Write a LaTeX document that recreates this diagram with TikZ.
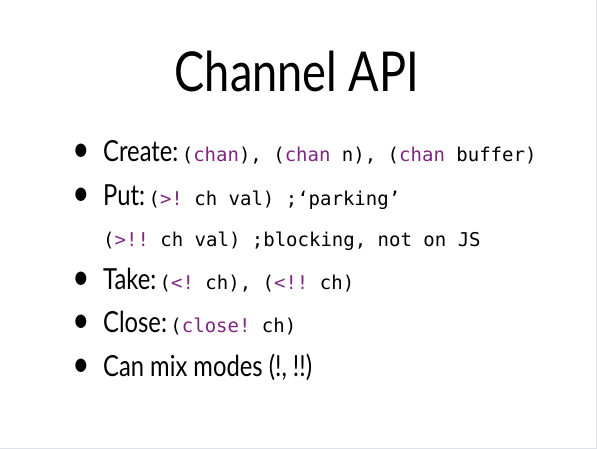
\documentclass[tikz,border=0pt]{standalone}
\usepackage{fontspec}
\setmainfont[FakeStretch=0.82]{Lato}
\setmonofont{DejaVu Sans Mono}
\usetikzlibrary{positioning}

\definecolor{kwpurple}{RGB}{128,38,128}
\definecolor{framegray}{RGB}{222,226,230}
\newcommand{\kw}[1]{\textcolor{kwpurple}{#1}}
\newcommand{\cd}[1]{{\ttfamily\fontsize{19}{22}\selectfont #1}}
\newcommand{\gap}{\hspace{0.12em}}

\begin{document}
\begin{tikzpicture}[x=1pt, y=-1pt,
    slidetitle/.style={font=\fontsize{55}{60}\selectfont, anchor=base, inner sep=0pt},
    item/.style={font=\fontsize{29}{32}\selectfont, anchor=base west, inner sep=0pt},
    dot/.style={font=\fontsize{36}{36}\selectfont, anchor=base, inner sep=0pt}]
    \useasboundingbox (0,0) rectangle (597,449);
    % slide frame
    \draw[framegray] (596.5,0) -- (596.5,448.5) -- (0,448.5);

    % Title
    \node[slidetitle] (title) at (297,92) {Channel API};

    % Bullet items
    \foreach \i/\y/\txt in {1/162/{Create:\gap\cd{(\kw{chan}), (\kw{chan} n), (\kw{chan} buffer)}},
                            2/206/{Put:\gap\cd{(\kw{>!} ch val) ;‘parking’}},
                            3/289/{Take:\gap\cd{(\kw{<!} ch), (\kw{<!!} ch)}},
                            4/332/{Close:\gap\cd{(\kw{close!} ch)}},
                            5/376/{Can mix modes (!, !!)}} {
        \node[dot] (b\i) at (81,\y) {\textbullet};
        \node[item] (t\i) at (103,\y) {\txt};
    }
    \node[item] (t2b) at (103,247) {\cd{(\kw{>!!} ch val) ;blocking, not on JS}};
\end{tikzpicture}
\end{document}
